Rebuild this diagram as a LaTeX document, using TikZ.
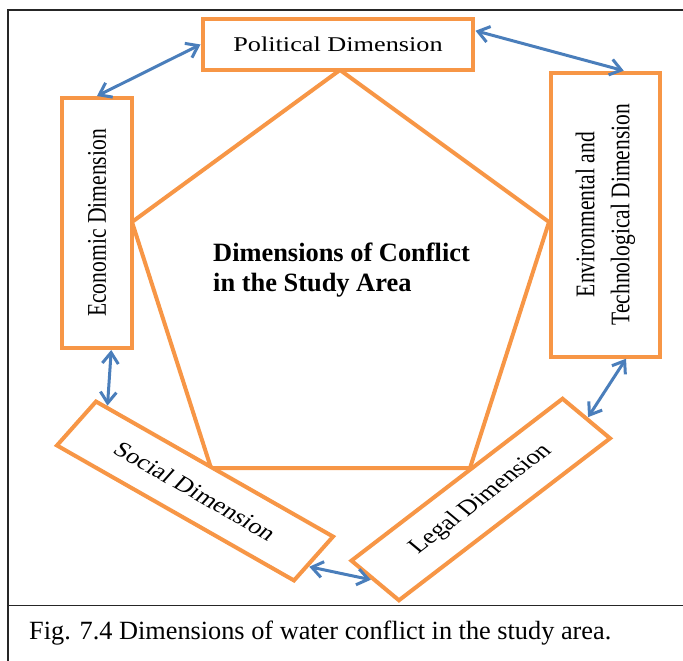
\documentclass[tikz,border=0pt]{standalone}
\usepackage{fontspec}
\setmainfont{Liberation Serif}
\usetikzlibrary{arrows.meta,calc}
\definecolor{orng}{HTML}{F79646}
\definecolor{blu}{HTML}{4A7EBB}
\begin{document}
\begin{tikzpicture}[x=1pt,y=-1pt,
  dimbox/.style={draw=orng,line width=4pt,fill=white,inner sep=0pt,line join=miter},
  dimtext/.style={font=\fontsize{21.5}{28}\selectfont},
  conn/.style={draw=blu,line width=3pt,
    {Straight Barb[length=11pt,width=16pt]}-{Straight Barb[length=11pt,width=16pt]}},
  framel/.style={draw=black!85,line width=1.6pt}]
\useasboundingbox (0,0) rectangle (683,661);
\clip (0,0) rectangle (683,661);
% frame
\draw[framel] (8,665) -- (8,10) -- (690,10);
\draw[framel] (8,605.5) -- (690,605.5);
% pentagon
\draw[orng,line width=4pt,line join=miter] (340,70) -- (549,222) -- (470,468) -- (211,468) -- (132,222) -- cycle;
% boxes (drawing stretched horizontally)
\begin{scope}[xscale=1.25,transform shape]
\node[dimbox,dimtext,minimum width=216pt,minimum height=51pt] (pol) at (270.4,44.5)
  {\fontsize{21}{25}\selectfont Political Dimension};
\node[dimbox,dimtext,rotate=90,minimum width=250pt,minimum height=56pt] (econ) at (77.6,223)
  {\fontsize{21.6}{26}\selectfont Economic Dimension};
\node[dimbox,dimtext,rotate=90,align=center,minimum width=284pt,minimum height=87.2pt] (env) at (484.4,214.7)
  {\fontsize{21.6}{28}\selectfont Environmental and\\Technological Dimension};
\node[dimbox,dimtext,rotate=-35.45,minimum width=232.8pt,minimum height=53.9pt] (soc) at (156,491)
  {Social Dimension};
\node[dimbox,dimtext,rotate=43.8,minimum width=234pt,minimum height=54.9pt] (leg) at (384.6,499.5)
  {Legal Dimension};
\end{scope}
% title
\node[anchor=base west,inner sep=0pt,align=left,font=\fontsize{26.4}{30}\selectfont\bfseries] (title) at (213,291.5)
  {Dimensions of Conflict\\in the Study Area};
% connectors
\draw[conn] (econ.east) -- (pol.west);
\draw[conn] ($(pol.north east)!0.25!(pol.south east)$) -- ($(env.north east)!0.66!(env.south east)$);
\draw[conn] ($(econ.north west)!0.69!(econ.south west)$) -- ($(soc.north west)!0.05!(soc.north east)$);
\draw[conn] ($(soc.north east)!0.65!(soc.south east)$) -- ($(leg.north west)!0.45!(leg.south west)$);
\draw[conn] (leg.east) -- ($(env.north west)!0.68!(env.south west)$);
% caption
\node[anchor=base west,inner sep=0pt,font=\fontsize{26.3}{30}\selectfont] (cap) at (29,639.5)
  {Fig. 7.4 Dimensions of water conflict in the study area.};
\end{tikzpicture}
\end{document}
